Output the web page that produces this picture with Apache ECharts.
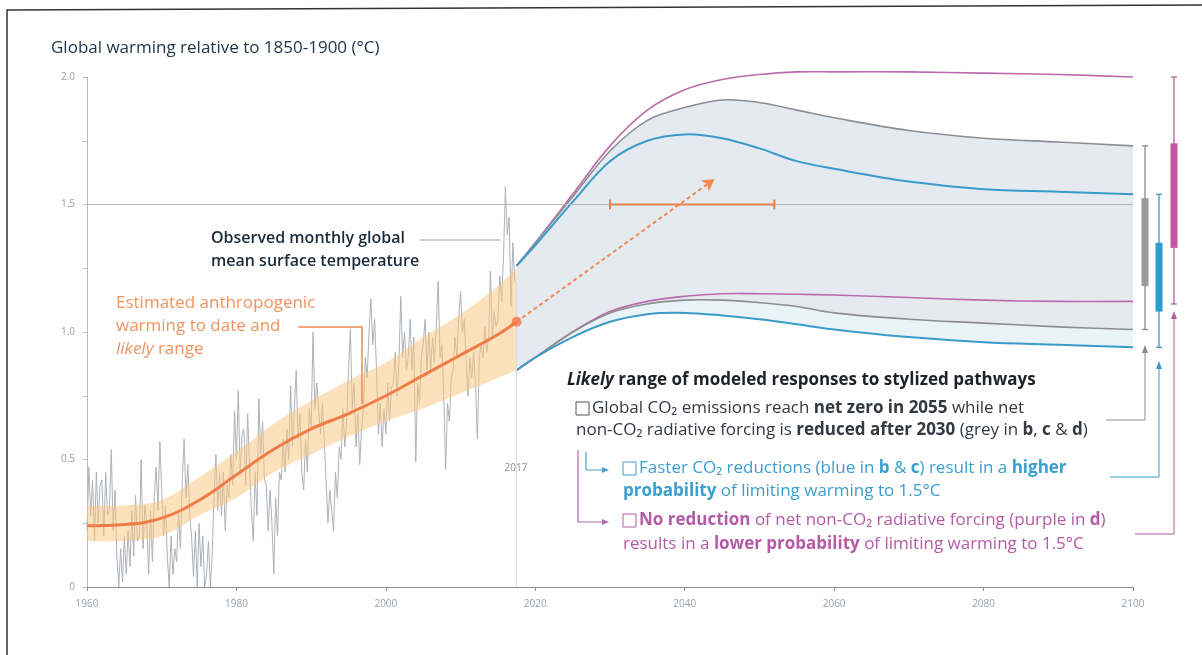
<!DOCTYPE html>
<html><head><meta charset="utf-8">
<script src="https://cdn.jsdelivr.net/npm/echarts@6/dist/echarts.min.js"></script>
<style>html,body{margin:0;padding:0;background:#fff}#c{width:1202px;height:655px}</style>
</head><body><div id="c"></div>
<script>
// ---------------- DATA ----------------
const xTickYears = [1960, 1980, 2000, 2020, 2040, 2060, 2080, 2100];
const yTickValues = [0, 0.5, 1.0, 1.5, 2.0];

// observed monthly GMST (read 4 per year from 1960)
const obsStartYear = 1960, obsPerYear = 4;
const observed = [
 0.22,0.47,0.28,0.42, 0.18,0.45,0.25,0.40, 0.42,0.20,0.45,0.28, 0.30,0.54,0.22,0.38,
 0.12,0.00,0.15,0.02, 0.20,0.05,0.22,0.08, 0.30,0.12,0.36,0.18, 0.20,0.50,0.15,0.32,
 0.25,0.05,0.30,0.10, 0.35,0.47,0.30,0.57, 0.38,0.20,0.32,0.12, 0.00,0.20,0.05,0.15,
 0.10,0.30,0.15,0.42, 0.58,0.35,0.48,0.28, 0.20,0.04,0.22,0.00, 0.25,0.08,0.20,0.00,
 0.05,0.18,0.00,0.12, 0.35,0.52,0.30,0.45, 0.28,0.45,0.22,0.40, 0.35,0.52,0.40,0.69,
 0.50,0.77,0.45,0.60, 0.62,0.40,0.68,0.48, 0.30,0.18,0.45,0.28, 0.74,0.52,0.65,0.42,
 0.40,0.22,0.38,0.25, 0.05,0.35,0.20,0.45, 0.42,0.58,0.45,0.62, 0.50,0.79,0.55,0.70,
 0.85,0.58,0.68,0.45, 0.38,0.58,0.45,0.70, 0.62,1.00,0.70,0.80, 0.80,0.60,0.72,0.58,
 0.42,0.25,0.38,0.30, 0.22,0.45,0.35,0.55, 0.50,0.70,0.55,0.65, 0.85,1.01,0.70,0.80,
 0.55,0.68,0.48,0.62, 0.70,0.90,0.82,1.00, 1.13,0.95,1.05,0.85, 0.60,0.72,0.55,0.70,
 0.60,0.80,0.65,0.78, 0.80,0.92,0.75,0.88, 1.14,0.90,1.00,0.85, 0.90,1.05,0.85,0.98,
 0.49,0.80,0.72,0.90, 0.95,1.05,0.85,1.00, 0.85,0.98,0.88,1.02, 1.20,0.90,0.95,0.75,
 0.46,0.72,0.65,0.82, 0.85,0.98,0.90,1.05, 1.16,1.00,1.05,0.88, 0.75,0.90,0.82,0.92,
 0.80,0.58,0.90,0.95, 0.90,1.02,0.92,0.98, 1.24,0.98,1.08,1.02, 1.05,1.22,1.12,1.30,
 1.57,1.38,1.45,1.10, 1.35,1.20
];

// estimated anthropogenic warming and likely range
const anthroYears = [1960, 1965, 1970, 1975, 1980, 1985, 1990, 1995, 2000, 2005, 2010, 2015, 2017.5];
const anthroMid   = [0.24, 0.245, 0.27, 0.34, 0.44, 0.54, 0.62, 0.68, 0.75, 0.83, 0.91, 0.99, 1.04];
const anthroLow   = [0.18, 0.18, 0.20, 0.28, 0.35, 0.45, 0.52, 0.59, 0.65, 0.70, 0.76, 0.82, 0.85];
const anthroHigh  = [0.32, 0.32, 0.34, 0.43, 0.53, 0.64, 0.73, 0.81, 0.88, 0.98, 1.07, 1.18, 1.25];

// modelled pathways (likely ranges)
const futureYears = [2017.5, 2020, 2025, 2030, 2035, 2040, 2045, 2050, 2055, 2060, 2070, 2080, 2090, 2100];
const greyUpper   = [1.26, 1.35, 1.53, 1.71, 1.83, 1.88, 1.91, 1.90, 1.87, 1.84, 1.79, 1.76, 1.745, 1.73];
const greyLower   = [0.85, 0.90, 1.00, 1.075, 1.11, 1.125, 1.125, 1.115, 1.10, 1.075, 1.05, 1.035, 1.02, 1.01];
const blueUpper   = [1.26, 1.34, 1.51, 1.67, 1.75, 1.775, 1.76, 1.72, 1.67, 1.64, 1.59, 1.56, 1.55, 1.54];
const blueLower   = [0.85, 0.90, 0.98, 1.04, 1.07, 1.075, 1.065, 1.05, 1.03, 1.01, 0.98, 0.96, 0.95, 0.94];
const purpleUpper = [1.26, 1.35, 1.54, 1.73, 1.87, 1.95, 1.99, 2.01, 2.02, 2.02, 2.02, 2.015, 2.01, 2.0];
const purpleLower = [0.85, 0.90, 1.00, 1.08, 1.12, 1.14, 1.15, 1.15, 1.148, 1.145, 1.135, 1.125, 1.12, 1.12];

// 2100 range bars: grey, blue, purple
const rangeWhiskerLow  = [1.01, 0.94, 1.11];
const rangeBoxLow      = [1.18, 1.08, 1.33];
const rangeBoxHigh     = [1.525, 1.35, 1.74];
const rangeWhiskerHigh = [1.73, 1.54, 2.00];

// present state and time window for reaching 1.5 °C
const currentYear = 2017.5, currentWarming = 1.04;
const arrowEnd = [2044, 1.6];
const reachWindow = [2030, 2052];
const reachLevel = 1.5;

// ---------------- STYLE ----------------
const FONT = '"Open Sans", "Noto Sans", sans-serif';
const C = { grey: '#8c8e91', blue: '#3a9bc9', purple: '#bb6aab', orange: '#ee7d46' };
const barColors = ['#9b9b9b', '#2f9dcc', '#c455a0'];
const barLineColors = ['#8a8a8a', '#3a9bc9', '#b25ea6'];
const barOffsets = [12, 26, 41];
const SMOOTH = 0.35;

const pairs = (xs, ys) => xs.map((x, i) => [x, ys[i]]);
const obsData = observed.map((v, i) => [obsStartYear + i / obsPerYear, v]);

// smooth bezier path through pixel points (same idea as ECharts line smoothing)
function bezierSegs(pts, s) {
  const n = pts.length, segs = [];
  let cpPrev = pts[0];
  for (let i = 0; i < n; i++) {
    const p = pts[i];
    let cin = p, cout = p;
    if (i > 0 && i < n - 1) {
      const a = pts[i - 1], b = pts[i + 1];
      const vx = b[0] - a[0], vy = b[1] - a[1];
      const l0 = Math.hypot(p[0] - a[0], p[1] - a[1]), l1 = Math.hypot(b[0] - p[0], b[1] - p[1]);
      const r = l1 / (l0 + l1 || 1);
      cout = [p[0] + vx * s * r, p[1] + vy * s * r];
      cin = [p[0] - vx * s * (1 - r), p[1] - vy * s * (1 - r)];
    }
    if (i > 0) segs.push([cpPrev, cin, p]);
    cpPrev = cout;
  }
  return segs;
}
const f = v => v.toFixed(2);
function curveD(pts, move) {
  let d = (move ? 'M' : 'L') + f(pts[0][0]) + ' ' + f(pts[0][1]);
  for (const sg of bezierSegs(pts, SMOOTH))
    d += 'C' + f(sg[0][0]) + ' ' + f(sg[0][1]) + ' ' + f(sg[1][0]) + ' ' + f(sg[1][1]) + ' ' + f(sg[2][0]) + ' ' + f(sg[2][1]);
  return d;
}
function bandD(upper, lower) {
  return curveD(upper, true) + curveD(lower.slice().reverse(), false) + 'Z';
}
function toPx(api, xs, ys) { return xs.map((x, i) => api.coord([x, ys[i]])); }

const series = [
  // future pathway bands and lines
  { type: 'custom', silent: true, z: 1, clip: false, data: [[futureYears[0], greyUpper[0]]],
    renderItem(params, api) {
      const gU = toPx(api, futureYears, greyUpper), gL = toPx(api, futureYears, greyLower);
      const bU = toPx(api, futureYears, blueUpper), bL = toPx(api, futureYears, blueLower);
      const pU = toPx(api, futureYears, purpleUpper), pL = toPx(api, futureYears, purpleLower);
      const stroke = (pts, c, w) => ({ type: 'path', shape: { pathData: curveD(pts, true) },
        style: { stroke: c, lineWidth: w, fill: null } });
      return { type: 'group', children: [
        { type: 'path', shape: { pathData: bandD(gL, bL) }, style: { fill: '#e9f3f8' } },
        { type: 'path', shape: { pathData: bandD(gU, gL) }, style: { fill: '#e5eaf1' } },
        stroke(pU, C.purple, 1.6), stroke(pL, C.purple, 1.6),
        stroke(gU, C.grey, 1.6), stroke(gL, C.grey, 1.6),
        stroke(bU, C.blue, 2), stroke(bL, C.blue, 2)
      ] };
    } },
  // observed
  { type: 'line', data: obsData, symbol: 'none', silent: true, z: 2,
    lineStyle: { color: '#abb2b9', width: 1 } },
  // anthropogenic likely band
  { type: 'custom', silent: true, z: 3, data: [[anthroYears[0], anthroHigh[0]]],
    renderItem(params, api) {
      return { type: 'path', shape: { pathData: bandD(toPx(api, anthroYears, anthroHigh), toPx(api, anthroYears, anthroLow)) },
        style: { fill: 'rgba(251,198,128,0.52)' } };
    } },
  // reference lines
  { type: 'line', data: [], silent: true, z: 4,
    markLine: { silent: true, symbol: ['none', 'none'], label: { show: false },
      data: [
        [{ coord: [1960, reachLevel], lineStyle: { color: '#b3b7bb', width: 1, type: 'solid' } }, { coord: [2100, reachLevel] }],
        [{ coord: [currentYear, 0], lineStyle: { color: '#d9dcdf', width: 1, type: 'solid' } }, { coord: [currentYear, 1.2] }]
      ] } },
  // anthropogenic central estimate
  { type: 'line', data: pairs(anthroYears, anthroMid), smooth: 0.4, symbol: 'none', silent: true, z: 6,
    lineStyle: { color: C.orange, width: 3 } },
  // dashed projection arrow
  { type: 'line', data: [], silent: true, z: 7,
    markLine: { silent: true, symbol: ['none', 'arrow'], symbolSize: [10, 12], label: { show: false },
      lineStyle: { color: '#f08a50', width: 2, type: [4, 3] },
      data: [[{ coord: [currentYear, currentWarming] }, { coord: arrowEnd }]] } },
  // window of reaching 1.5
  { type: 'custom', silent: true, z: 7, data: [[reachWindow[0], reachLevel, reachWindow[1]]],
    renderItem(params, api) {
      const a = api.coord([api.value(0), api.value(1)]);
      const b = api.coord([api.value(2), api.value(1)]);
      const st = { stroke: '#e8804a', lineWidth: 2 };
      return { type: 'group', children: [
        { type: 'line', shape: { x1: a[0], y1: a[1], x2: b[0], y2: b[1] }, style: st },
        { type: 'line', shape: { x1: a[0], y1: a[1] - 5, x2: a[0], y2: a[1] + 5 }, style: st },
        { type: 'line', shape: { x1: b[0], y1: b[1] - 5, x2: b[0], y2: b[1] + 5 }, style: st }
      ] };
    } },
  // current point
  { type: 'scatter', data: [[currentYear, currentWarming]], symbolSize: 10, silent: true, z: 8,
    itemStyle: { color: '#f07a45' } },
  // 2100 range bars
  { type: 'custom', silent: true, z: 8, clip: false,
    data: rangeWhiskerLow.map((v, i) => [i, v, rangeBoxLow[i], rangeBoxHigh[i], rangeWhiskerHigh[i]]),
    renderItem(params, api) {
      const i = api.value(0);
      const x = api.coord([2100, 0])[0] + barOffsets[i];
      const y = k => api.coord([2100, api.value(k)])[1];
      const ls = { stroke: barLineColors[i], lineWidth: 1.3 };
      return { type: 'group', children: [
        { type: 'line', shape: { x1: x, y1: y(1), x2: x, y2: y(4) }, style: ls },
        { type: 'line', shape: { x1: x - 3, y1: y(1), x2: x + 3, y2: y(1) }, style: ls },
        { type: 'line', shape: { x1: x - 3, y1: y(4), x2: x + 3, y2: y(4) }, style: ls },
        { type: 'rect', shape: { x: x - 3.5, y: y(3), width: 7, height: y(2) - y(3) },
          style: { fill: barColors[i] } }
      ] };
    } }
];

// ---------------- ANNOTATIONS ----------------
function txt(x, y, text, size, color, extra) {
  return Object.assign({ type: 'text', x, y, silent: true, z: 20,
    style: Object.assign({ text, fontFamily: FONT, fontSize: size, fill: color, verticalAlign: 'middle' }, extra || {}) });
}
function rich(x, y, text, rs, color, size) {
  size = size || 17;
  const base = { fontFamily: FONT, fontSize: size, color: color };
  const r = {};
  for (const k in rs) r[k] = Object.assign({}, base, rs[k]);
  return { type: 'text', x, y, silent: true, z: 20,
    style: { text, rich: r, fontFamily: FONT, fontSize: size, fill: color, verticalAlign: 'middle' } };
}
function poly(points, stroke, w) {
  return { type: 'polyline', silent: true, z: 20, shape: { points }, style: { stroke, lineWidth: w || 1, fill: null } };
}
function tri(points, fill) {
  return { type: 'polygon', silent: true, z: 20, shape: { points }, style: { fill } };
}
function box(x, y, color) {
  return { type: 'rect', silent: true, z: 20, shape: { x, y, width: 13, height: 13 },
    style: { stroke: color, lineWidth: 1, fill: null } };
}

const darkTxt = '#33393f', darkB = '#1e2226';
const blueTxt = '#3a9fcf', blueB = '#1c86bd';
const purpTxt = '#b45aa6', purpB = '#9f2f8a';
const nb = (c, b) => ({ n: { color: c }, b: { fontWeight: 'bold', color: b } });

const graphic = [
  poly([[7, 655], [7, 10], [1202, 5]], '#333', 1.5),
  txt(51, 48, 'Global warming relative to 1850-1900 (°C)', 17, '#1f3346'),
  txt(211, 238, 'Observed monthly global', 16, '#1b2a3a', { fontWeight: 600 }),
  txt(211, 261, 'mean surface temperature', 16, '#1b2a3a', { fontWeight: 600 }),
  poly([[420, 240], [500, 240]], '#9da1a5', 1),
  txt(116, 303, 'Estimated anthropogenic', 17, '#ef9460'),
  txt(116, 326, 'warming to date and', 17, '#ef9460'),
  rich(116, 349, '{i|likely}{n| range}', { i: { fontStyle: 'italic' }, n: {} }, '#ef9460'),
  poly([[298, 327], [362, 327], [362, 404]], '#f08a50', 1.5),
  txt(516, 468, '2017', 10, '#8f969c', { align: 'center' }),
  rich(567, 380, '{i|Likely}{b| range of modeled responses to stylized pathways}',
    { i: { fontStyle: 'italic', fontWeight: 'bold' }, b: { fontWeight: 'bold' } }, darkB),
  box(576, 402, '#555'),
  rich(592, 408, '{n|Global CO₂ emissions reach }{b|net zero in 2055}{n| while net}', nb(darkTxt, darkB), darkTxt),
  rich(576, 430, '{n|non-CO₂ radiative forcing is }{b|reduced after 2030}{n| (grey in }{b|b}{n|, }{b|c}{n| & }{b|d}{n|)}',
    nb(darkTxt, darkB), darkTxt),
  box(623, 462, blueTxt),
  rich(639, 468, '{n|Faster CO₂ reductions (blue in }{b|b}{n| & }{b|c}{n|) result in a }{b|higher}', nb(blueTxt, blueB), blueTxt),
  rich(623, 491, '{b|probability}{n| of limiting warming to 1.5°C}', nb(blueTxt, blueB), blueTxt),
  box(623, 514, purpTxt),
  rich(639, 520, '{b|No reduction}{n| of net non-CO₂ radiative forcing (purple in }{b|d}{n|)}', nb(purpTxt, purpB), purpTxt),
  rich(623, 544, '{n|results in a }{b|lower probability}{n| of limiting warming to 1.5°C}', nb(purpTxt, purpB), purpTxt),
  poly([[578, 450], [578, 522], [606, 522]], '#b06aa8', 1.2),
  tri([[602, 519], [609, 522], [602, 525]], '#b06aa8'),
  poly([[586, 452], [586, 470], [606, 470]], '#4a9fcc', 1.2),
  tri([[602, 467], [609, 470], [602, 473]], '#4a9fcc'),
  poly([[1106, 420], [1145, 420], [1145, 348]], '#8a8a8a', 1),
  tri([[1142, 353], [1145, 345], [1148, 353]], '#8a8a8a'),
  poly([[1110, 477], [1159, 477], [1159, 364]], '#3a9bc9', 1),
  tri([[1156, 369], [1159, 361], [1162, 369]], '#3a9bc9'),
  poly([[1135, 534], [1174, 534], [1174, 314]], '#b25ea6', 1),
  tri([[1171, 319], [1174, 311], [1177, 319]], '#b25ea6')
];

const option = {
  animation: false,
  grid: { left: 87, right: 69, top: 77, bottom: 68 },
  xAxis: {
    type: 'value', min: 1960, max: 2100, interval: 20,
    axisLine: { lineStyle: { color: '#8d9196', width: 1 } },
    axisTick: { show: true, length: 4, lineStyle: { color: '#8d9196' } },
    axisLabel: { color: '#97a0a8', fontSize: 10, fontFamily: FONT, margin: 12,
      formatter: v => xTickYears.includes(v) ? String(v) : '' },
    splitLine: { show: false }
  },
  yAxis: {
    type: 'value', min: 0, max: 2, interval: 0.25,
    axisLine: { show: true, lineStyle: { color: '#b5b9bd', width: 1 } },
    axisTick: { show: true, length: 4, lineStyle: { color: '#b5b9bd' } },
    axisLabel: { color: '#97a0a8', fontSize: 10, fontFamily: FONT, margin: 12,
      formatter: v => {
        const t = yTickValues.find(k => Math.abs(k - v) < 1e-9);
        return t === undefined ? '' : (t === 0 ? '0' : t.toFixed(1));
      } },
    splitLine: { show: false }
  },
  series,
  graphic
};

const chart = echarts.init(document.getElementById('c'), null, { renderer: 'canvas' });
chart.setOption(option);
</script>
</body></html>
